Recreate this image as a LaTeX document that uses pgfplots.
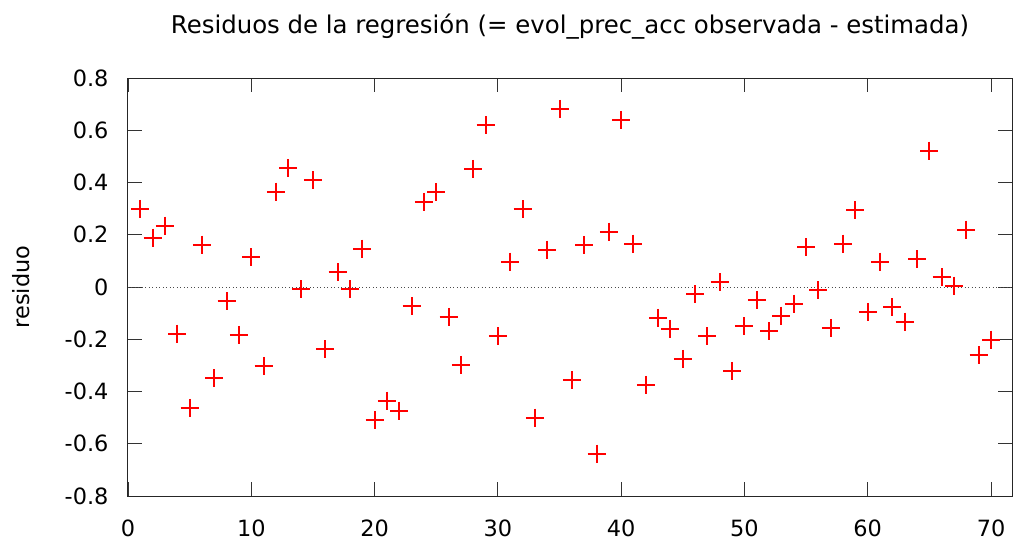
\documentclass[border=0pt]{standalone}
\usepackage{fontspec}
\setmainfont{DejaVu Sans}
\usepackage{pgfplots}
\pgfplotsset{compat=1.18}
\pgfplotstableread{
x y
1 0.299
2 0.189
3 0.235
4 -0.178
5 -0.463
6 0.162
7 -0.349
8 -0.054
9 -0.183
10 0.113
11 -0.302
12 0.365
13 0.455
14 -0.008
15 0.409
16 -0.238
17 0.056
18 -0.008
19 0.147
20 -0.510
21 -0.435
22 -0.473
23 -0.073
24 0.326
25 0.363
26 -0.114
27 -0.298
28 0.452
29 0.620
30 -0.188
31 0.097
32 0.298
33 -0.500
34 0.143
35 0.682
36 -0.357
37 0.161
38 -0.638
39 0.212
40 0.640
41 0.166
42 -0.375
43 -0.118
44 -0.160
45 -0.275
46 -0.027
47 -0.188
48 0.019
49 -0.321
50 -0.151
51 -0.050
52 -0.170
53 -0.110
54 -0.064
55 0.152
56 -0.013
57 -0.156
58 0.166
59 0.294
60 -0.095
61 0.097
62 -0.077
63 -0.133
64 0.107
65 0.522
66 0.038
67 0.005
68 0.220
69 -0.261
70 -0.201
}\resid
\begin{document}
\begin{tikzpicture}
\path[use as bounding box] (-128bp,-44bp) rectangle (885bp,496bp);
\begin{axis}[
  scale only axis, width=884bp, height=418bp,
  xmin=0, xmax=71.7, ymin=-0.8, ymax=0.8,
  xtick={0,10,20,30,40,50,60,70},
  ytick={-0.8,-0.6,-0.4,-0.2,0,0.2,0.4,0.6,0.8},
  yticklabels={-0.8,-0.6,-0.4,-0.2,0,0.2,0.4,0.6,0.8},
  xticklabels={0,10,20,30,40,50,60,70},
  tick align=inside, major tick length=14bp,
  tick style={line width=0.9bp, color=black!80},
  axis line style={line width=1bp, color=black!85},
  font=\fontsize{22.5}{27}\selectfont,
  ticklabel style={font=\fontsize{22.5}{27}\selectfont},
  /pgf/number format/assume math mode=true,
  every axis title shift=0pt,
  title={Residuos de la regresión (= evol\_prec\_acc observada - estimada)},
  title style={at={(axis description cs:0.5,1)}, anchor=base, yshift=45bp, font=\fontsize{24.5}{28}\selectfont},
  ylabel={residuo},
  ylabel style={at={(axis description cs:-0.1205,0.5)}, anchor=center, font=\fontsize{22.5}{27}\selectfont},
  xticklabel style={anchor=base, yshift=-40bp, text depth=0pt, inner sep=0pt},
  yticklabel style={anchor=east, xshift=-16bp},
  clip=false,
]
\addplot[color=black!70, line width=1bp, dash pattern=on 1bp off 2.5bp] coordinates {(0,0) (71.7,0)};
\addplot[only marks, mark=+, color=red, mark size=9bp, mark options={color=red, solid, line width=2bp}] table[x=x,y=y] {\resid};
\end{axis}
\end{tikzpicture}
\end{document}
